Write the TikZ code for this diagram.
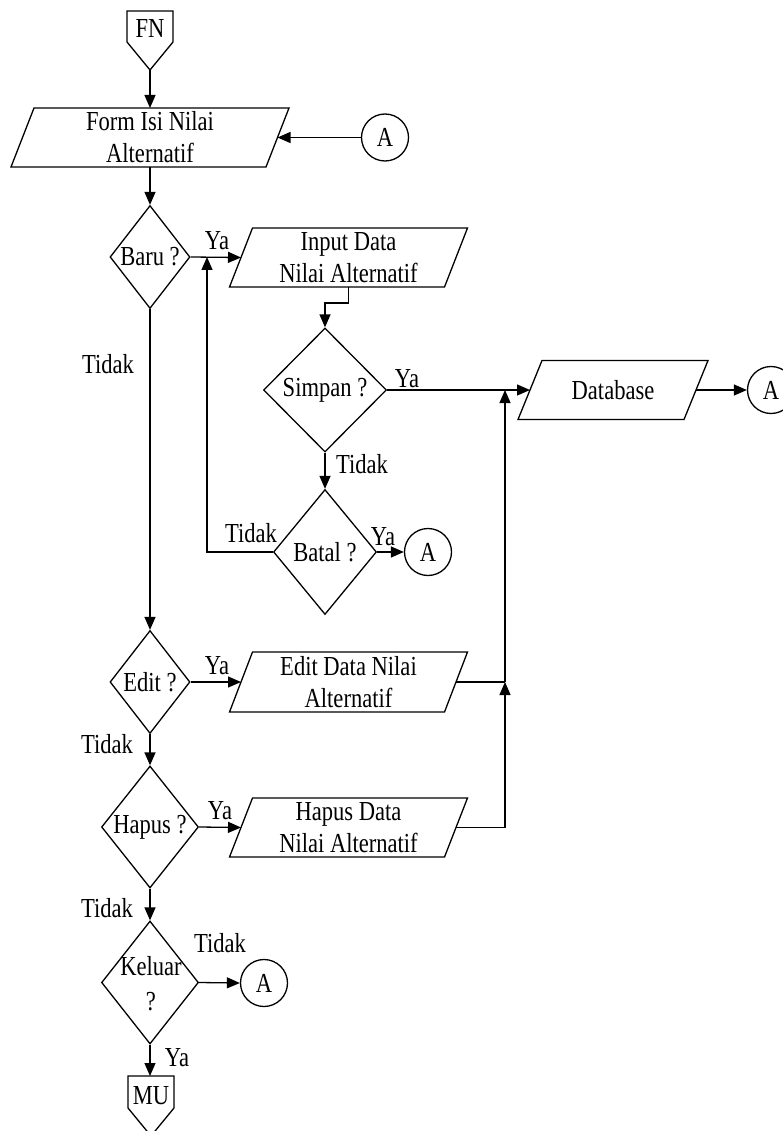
\documentclass[tikz,border=0pt]{standalone}
\usepackage{fontspec}
\setmainfont{Liberation Serif}[FakeStretch=0.82]
\usetikzlibrary{shapes.geometric,arrows.meta,calc}
\tikzset{
  ln/.style={line width=1.3pt},
  arr/.style={ln,-{Triangle[length=13pt,width=11pt]}},
  dia/.style={diamond,draw,ln,inner sep=0pt},
  conn/.style={circle,draw,ln,minimum size=47pt,inner sep=0pt},
  txt/.style={inner sep=0pt,align=center},
  lbl/.style={inner sep=0pt},
}
\newcommand\parabox[7]{%
  \coordinate (#1) at (#2,#3);
  \coordinate (#1-n) at (#2,#3-#5);
  \coordinate (#1-s) at (#2,#3+#5);
  \coordinate (#1-e) at (#2+#4,#3);
  \coordinate (#1-w) at (#2-#4,#3);
  \draw[ln] (#2-#4+#6,#3-#5) -- (#2+#4+#6,#3-#5) -- (#2+#4-#6,#3+#5) -- (#2-#4-#6,#3+#5) -- cycle;
  \node[txt] (#1-t) at (#2,#3) {#7};
}
\begin{document}
\begin{tikzpicture}[x=1pt,y=-1pt,font=\fontsize{27.5}{32}\selectfont]
\useasboundingbox (0,0) rectangle (782,1131);
% off-page connectors
\draw[ln] (127,11) -- (173,11) -- (173,42) -- (150,70) -- (127,42) -- cycle;
\coordinate (fn-tip) at (150,70);
\node[txt] (fn) at (150,29) {FN};
\draw[ln] (128,1076) -- (174,1076) -- (174,1108) -- (151,1136) -- (128,1108) -- cycle;
\coordinate (mu-top) at (150,1076);
\node[txt] (mu) at (151,1096) {MU};
% parallelograms
\parabox{form}{150}{137.5}{127.5}{29.5}{11.5}{Form Isi Nilai\\Alternatif}
\parabox{input}{348.5}{257.5}{107.5}{29.5}{11.5}{Input Data\\Nilai Alternatif}
\parabox{edit}{348.5}{682}{107.5}{30}{11.5}{Edit Data Nilai\\Alternatif}
\parabox{hapus}{348.5}{827.5}{107.5}{29.5}{11.5}{Hapus Data\\Nilai Alternatif}
\parabox{db}{613}{390}{83}{29.5}{12}{Database}
% diamonds
\node[dia,minimum width=80pt,minimum height=103pt] (baru) at (150,257) {};
\node[txt] (baru-t) at (baru) {Baru ?};
\node[dia,minimum width=123pt,minimum height=124pt] (simpan) at (325,390) {};
\node[txt] (simpan-t) at (simpan) {Simpan ?};
\node[dia,minimum width=103pt,minimum height=125pt] (batal) at (325,552) {};
\node[txt] (batal-t) at (batal) {Batal ?};
\node[dia,minimum width=80pt,minimum height=103pt] (editd) at (150,682) {};
\node[txt] (editd-t) at (editd) {Edit ?};
\node[dia,minimum width=97pt,minimum height=122pt] (hapusd) at (150,827) {};
\node[txt] (hapusd-t) at (hapusd) {Hapus ?};
\node[dia,minimum width=97pt,minimum height=123pt] (keluar) at (150,982.5) {};
\node[txt] (keluar-t) at (151,984) {Keluar\\[3pt]?};
% connectors (circles)
\node[conn] (a1) at (385,137.5) {A};
\node[conn] (a2) at (771,390) {A};
\node[conn] (a3) at (428,552) {A};
\node[conn] (a4) at (264,983) {A};
% helper coordinates
\coordinate (loop) at (207,257);
\coordinate (m1) at (505,682);
\coordinate (m2) at (505,390);
\coordinate (m3) at (505,827.5);
% edges
\draw[arr] (fn-tip) -- (fn-tip |- form-n);
\draw[arr] (a1.west) -- (form-e);
\draw[arr] (form-s) -- (baru.north);
\draw[arr] (baru.east) -- (input-w);
\draw[arr] (input-s) -- ++(0,16) -| (simpan.north);
\draw[arr] (simpan.east) -- (db-w);
\draw[arr] (db-e) -- (a2.west);
\draw[arr] (simpan.south) -- (batal.north);
\draw[arr] (batal.east) -- (a3.west);
\draw[arr] (batal.west) -| (loop);
\draw[arr] (baru.south) -- (editd.north);
\draw[arr] (editd.east) -- (edit-w);
\draw[ln] (edit-e) -- (m1);
\draw[arr] (m1) -- (m2);
\draw[ln] (hapus-e) -- (m3);
\draw[arr] (m3) -- (m1);
\draw[arr] (editd.south) -- (hapusd.north);
\draw[arr] (hapusd.east) -- (hapus-w);
\draw[arr] (hapusd.south) -- (keluar.north);
\draw[arr] (keluar.east) -- (a4.west);
\draw[arr] (keluar.south) -- (mu-top);
% labels
\node[lbl] (l1) at (217,241) {Ya};
\node[lbl] (l2) at (108,364) {Tidak};
\node[lbl] (l3) at (407,379) {Ya};
\node[lbl] (l4) at (362,464) {Tidak};
\node[lbl] (l5) at (251,533) {Tidak};
\node[lbl] (l6) at (383,537) {Ya};
\node[lbl] (l7) at (217,666) {Ya};
\node[lbl] (l8) at (107,744) {Tidak};
\node[lbl] (l9) at (220,811) {Ya};
\node[lbl] (l10) at (107,908) {Tidak};
\node[lbl] (l11) at (220,943) {Tidak};
\node[lbl] (l12) at (177,1058) {Ya};
\end{tikzpicture}
\end{document}
